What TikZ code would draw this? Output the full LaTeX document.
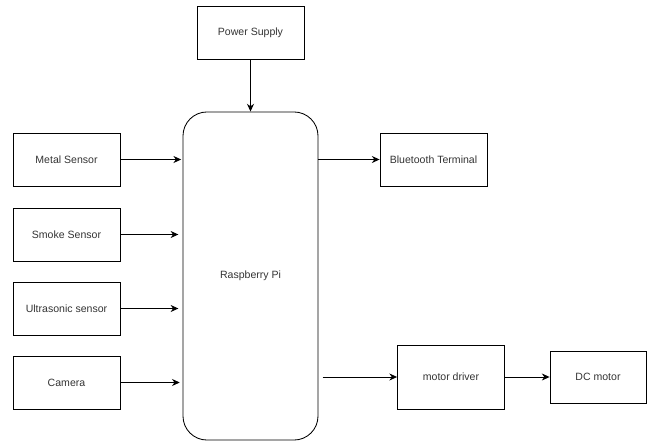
\documentclass[tikz,border=0pt]{standalone}
\usepackage{fontspec}
\setmainfont{Liberation Sans}
\usetikzlibrary{shapes,arrows.meta,positioning,calc}

\begin{document}
\begin{tikzpicture}[
  x=0.025cm, y=-0.025cm,
  box/.style={rectangle, draw, line width=0.6pt, minimum width=2.675cm, minimum height=1.325cm, align=center, font=\fontsize{7.5}{9}\selectfont, text=black!80, inner sep=1pt},
  arrow/.style={-{Stealth[length=5.5pt, width=5pt]}, line width=0.6pt}
]
  \useasboundingbox (0,0) rectangle (647,441);
  % central board
  \node[box, rounded corners=0.6cm, minimum width=3.375cm, minimum height=8.2cm] (pi) at (250.5,276) {Raspberry Pi};
  \node[box] (power) at (250.5,32.5) {Power Supply};
  % inputs
  \node[box] (metal) at (66.5,159.5) {Metal Sensor};
  \node[box] (smoke) at (66.5,234.5) {Smoke Sensor};
  \node[box] (ultra) at (66.5,308.5) {Ultrasonic sensor};
  \node[box] (cam) at (66.5,382.5) {Camera};
  % outputs
  \node[box] (bt) at (433.5,159.5) {Bluetooth Terminal};
  \node[box, minimum height=1.6cm] (drv) at (451,377) {motor driver};
  \node[box, minimum width=2.4cm, minimum height=1.3cm] (dc) at (598,377) {DC motor};
  \draw[arrow] (power) -- (pi);
  \draw[arrow, shorten >=1pt] (metal) -- (metal -| pi.west);
  \draw[arrow, shorten >=3pt] (smoke) -- (smoke -| pi.west);
  \draw[arrow, shorten >=3pt] (ultra) -- (ultra -| pi.west);
  \draw[arrow, shorten >=2pt] (cam) -- (cam -| pi.west);
  \draw[arrow] (bt -| pi.east) -- (bt);
  \draw[arrow, shorten <=3pt] (drv -| pi.east) -- (drv);
  \draw[arrow] (drv) -- (dc);
\end{tikzpicture}
\end{document}
